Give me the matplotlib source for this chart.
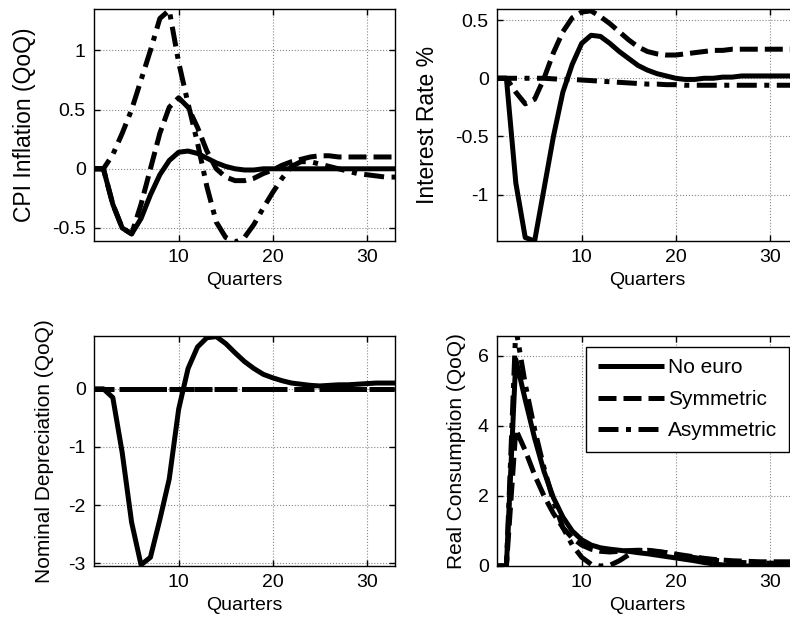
import numpy as np
import matplotlib
matplotlib.use("Agg")
import matplotlib.pyplot as plt

plt.rcParams['font.family'] = ['Liberation Sans', 'DejaVu Sans']
plt.rcParams['axes.unicode_minus'] = False

quarters = list(range(1, 34))

# CPI Inflation (QoQ)
cpi_noeuro = [0, 0, -0.3, -0.5, -0.55, -0.42, -0.22, -0.05, 0.07, 0.14, 0.15, 0.13, 0.09, 0.05,
              0.02, 0.0, -0.01, -0.01, 0.0, 0.0, 0.0, 0.0, 0.0, 0.0, 0.0, 0.0, 0.0, 0.0, 0.0,
              0.0, 0.0, 0.0, 0.0]
cpi_sym = [0, 0, -0.3, -0.5, -0.55, -0.3, 0.0, 0.3, 0.52, 0.6, 0.52, 0.35, 0.15, 0.0, -0.07,
           -0.1, -0.1, -0.08, -0.04, -0.01, 0.03, 0.06, 0.08, 0.1, 0.11, 0.11, 0.1, 0.1, 0.1,
           0.1, 0.1, 0.1, 0.1]
cpi_asym = [0, 0, 0.12, 0.3, 0.5, 0.75, 1.0, 1.27, 1.34, 0.9, 0.55, 0.22, -0.15, -0.45, -0.58,
            -0.62, -0.58, -0.47, -0.33, -0.2, -0.08, 0.02, 0.06, 0.06, 0.04, 0.02, 0.0, -0.02,
            -0.04, -0.05, -0.06, -0.07, -0.07]

# Interest Rate %
ir_noeuro = [0, 0, -0.9, -1.37, -1.4, -0.95, -0.5, -0.12, 0.12, 0.3, 0.37, 0.36, 0.3, 0.23,
             0.17, 0.11, 0.07, 0.04, 0.02, 0.0, -0.01, -0.01, 0.0, 0.0, 0.01, 0.01, 0.02, 0.02,
             0.02, 0.02, 0.02, 0.02, 0.02]
ir_sym = [0, 0, -0.12, -0.22, -0.18, 0.0, 0.22, 0.4, 0.52, 0.57, 0.58, 0.53, 0.47, 0.4, 0.33,
          0.27, 0.23, 0.21, 0.2, 0.2, 0.21, 0.22, 0.23, 0.24, 0.24, 0.25, 0.25, 0.25, 0.25,
          0.25, 0.25, 0.25, 0.25]
ir_asym = [0, 0, 0, 0, 0, 0, -0.005, -0.01, -0.01, -0.015, -0.02, -0.025, -0.03, -0.035,
           -0.04, -0.045, -0.05, -0.05, -0.055, -0.055, -0.06, -0.06, -0.06, -0.06, -0.06,
           -0.06, -0.06, -0.06, -0.06, -0.06, -0.06, -0.06, -0.06]

# Nominal Depreciation (QoQ)
dep_noeuro = [0, 0, -0.15, -1.1, -2.3, -3.03, -2.9, -2.25, -1.55, -0.35, 0.35, 0.72, 0.88, 0.9,
              0.78, 0.62, 0.47, 0.35, 0.25, 0.19, 0.14, 0.1, 0.08, 0.06, 0.05, 0.06, 0.07,
              0.07, 0.08, 0.09, 0.1, 0.1, 0.1]
dep_sym = [0.0] * 33
dep_asym = [0.0] * 33

# Real Consumption (QoQ)
cons_noeuro = [0, 0, 5.9, 4.75, 3.65, 2.7, 1.95, 1.4, 1.0, 0.75, 0.6, 0.52, 0.48, 0.45, 0.42,
               0.38, 0.35, 0.31, 0.27, 0.23, 0.19, 0.15, 0.1, 0.06, 0.03, 0.01, 0.0, 0.0, 0.0,
               0.0, 0.0, 0.0, 0.0]
cons_sym = [0, 0, 3.9, 3.3, 2.6, 2.0, 1.5, 1.1, 0.8, 0.6, 0.48, 0.42, 0.4, 0.42, 0.44, 0.45,
            0.44, 0.41, 0.38, 0.34, 0.3, 0.26, 0.22, 0.19, 0.17, 0.15, 0.14, 0.13, 0.12, 0.12,
            0.12, 0.12, 0.12]
cons_asym = [0, 0, 6.8, 5.2, 3.9, 2.8, 1.85, 1.1, 0.6, 0.25, 0.05, 0.0, 0.02, 0.15, 0.32, 0.43,
             0.45, 0.42, 0.38, 0.33, 0.28, 0.24, 0.2, 0.17, 0.14, 0.12, 0.1, 0.09, 0.08, 0.08,
             0.08, 0.08, 0.08]

series_names = ['No euro', 'Symmetric', 'Asymmetric']
ylabels = ['CPI Inflation (QoQ)', 'Interest Rate %', 'Nominal Depreciation (QoQ)',
           'Real Consumption (QoQ)']
xlabel = 'Quarters'
panels = [
    (cpi_noeuro, cpi_sym, cpi_asym),
    (ir_noeuro, ir_sym, ir_asym),
    (dep_noeuro, dep_sym, dep_asym),
    (cons_noeuro, cons_sym, cons_asym),
]
ylims = [(-0.61, 1.35), (-1.40, 0.596), (-3.05, 0.91), (0, 6.57)]
yticks = [[-0.5, 0, 0.5, 1], [-1, -0.5, 0, 0.5], [-3, -2, -1, 0], [0, 2, 4, 6]]
yticklabels = [['-0.5', '0', '0.5', '1'], ['-1', '-0.5', '0', '0.5'],
               ['-3', '-2', '-1', '0'], ['0', '2', '4', '6']]

W, H = 790, 620
fig = plt.figure(figsize=(7.9, 6.2), dpi=100)
positions = [
    (94, 9, 301, 232),
    (497, 9, 301, 232),
    (94, 336, 301, 230),
    (497, 336, 301, 230),
]
label_right = [36, 439, 54, 466]
label_fs = [16.5, 16.5, 15, 15]
lw = 3.6
styles = ['-', (0, (3.6, 1.4)), (0, (4.0, 1.5, 1.0, 1.5))]
FS = 14

for i, (px, py, pw, ph) in enumerate(positions):
    ax = fig.add_axes([px / W, 1 - (py + ph) / H, pw / W, ph / H])
    for data, ls, name in zip(panels[i], styles, series_names):
        ax.plot(quarters, data, color='black', linewidth=lw, linestyle=ls, label=name,
                solid_capstyle='butt', dash_capstyle='butt')
    ax.set_xlim(1, 33)
    ax.set_ylim(*ylims[i])
    ax.set_xticks([10, 20, 30])
    ax.set_xticklabels(['10', '20', '30'])
    ax.set_yticks(yticks[i])
    ax.set_yticklabels(yticklabels[i])
    ax.grid(True, linestyle=':', color='#888888', linewidth=0.8)
    ax.set_axisbelow(True)
    ax.tick_params(direction='in', top=True, right=True, length=4, width=1,
                   labelsize=FS, pad=6)
    for s in ax.spines.values():
        s.set_linewidth(1.0)
    ax.set_xlabel(xlabel, fontsize=FS, labelpad=4)
    ax.set_ylabel(ylabels[i], fontsize=label_fs[i])
    ax.yaxis.set_label_coords((label_right[i] - px) / pw, 0.5)
    if i == 3:
        leg = ax.legend(loc='upper right', bbox_to_anchor=(0.97, 0.952), borderaxespad=0,
                        fontsize=15, handlelength=3.2, handletextpad=0.2,
                        labelspacing=0.6, borderpad=0.55, fancybox=False, framealpha=1,
                        edgecolor='black')
        leg.get_frame().set_linewidth(1.0)

fig.savefig('out.png', dpi=100)
